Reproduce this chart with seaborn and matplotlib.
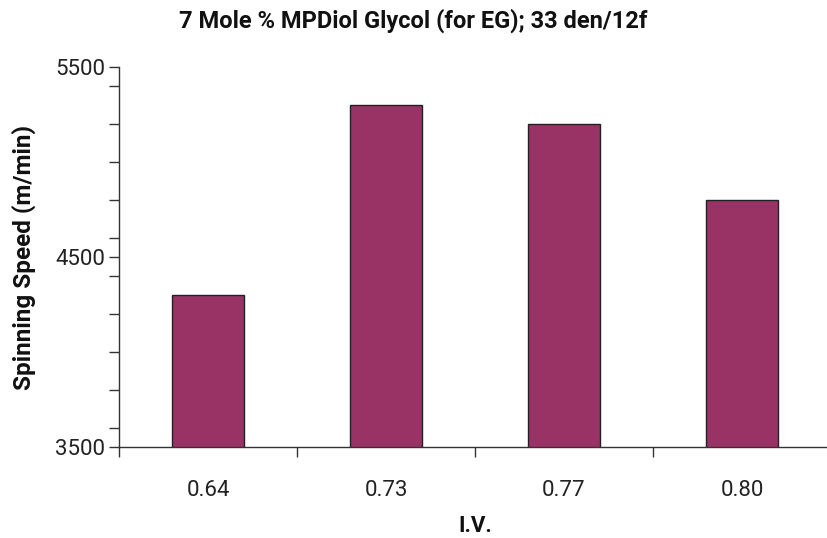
import matplotlib
matplotlib.use("Agg")
import matplotlib.pyplot as plt
import seaborn as sns
import pandas as pd
from matplotlib.ticker import FixedLocator, MultipleLocator

categories = ["0.64", "0.73", "0.77", "0.80"]
speeds = [4300, 5300, 5200, 4800]
ytick_values = [3500, 4500, 5500]

sns.set_theme(style="white")
plt.rcParams['font.family'] = ['Roboto', 'DejaVu Sans']

df = pd.DataFrame({"iv": categories, "speed": speeds})

fig = plt.figure(figsize=(8.27, 5.38), dpi=100)
ax = fig.add_axes([0.1439, 0.1691, 0.861, 0.7064])

sns.barplot(data=df, x="iv", y="speed", color="#993366", saturation=1,
            width=0.4, edgecolor="#222222", linewidth=1.0, ax=ax)

ax.set_ylim(3500, 5500)
ax.set_xlim(-0.5, 3.5)
ax.yaxis.set_major_locator(FixedLocator(ytick_values))
ax.set_yticklabels([str(v) for v in ytick_values])
ax.yaxis.set_minor_locator(MultipleLocator(200))
ax.tick_params(axis="y", which="both", direction="out", length=7, width=1,
               color="#333333", left=True, labelsize=16, labelcolor="#222222", pad=3)

ax.set_xticks([0, 1, 2, 3])
ax.set_xticklabels(categories)
ax.xaxis.set_minor_locator(FixedLocator([-0.5, 0.5, 1.5, 2.5, 3.5]))
ax.tick_params(axis="x", which="major", length=0, pad=24, labelsize=16, labelcolor="#222222")
ax.tick_params(axis="x", which="minor", direction="out", length=7, width=1, color="#333333", bottom=True)

for s in ["top", "right"]:
    ax.spines[s].set_visible(False)
for s in ["left", "bottom"]:
    ax.spines[s].set_color("#333333")
    ax.spines[s].set_linewidth(1.0)

ax.set_xlabel("I.V.", fontsize=16, fontweight="bold", color="#111111", labelpad=10)
ax.set_ylabel("Spinning Speed (m/min)", fontsize=17.5, fontweight="bold", color="#111111", labelpad=14)
fig.text(0.5, 0.962, "7 Mole % MPDiol Glycol (for EG); 33 den/12f", ha="center", va="center",
         fontsize=17, fontweight="bold", color="#111111")

fig.savefig("out.png", dpi=100)
